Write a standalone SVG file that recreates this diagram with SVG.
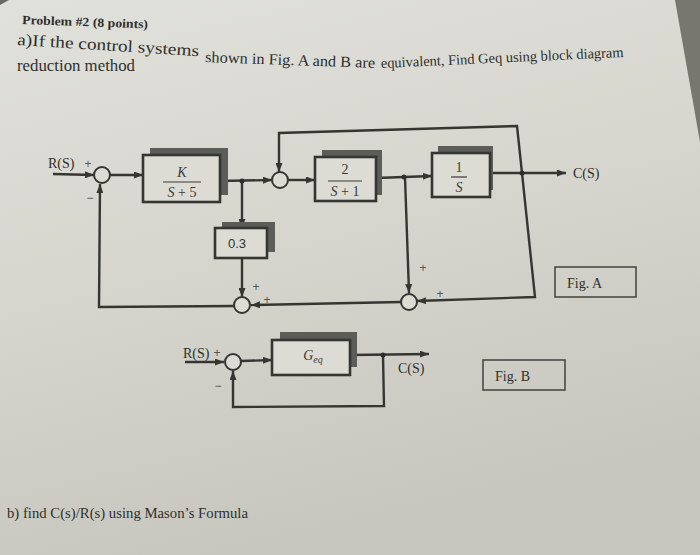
<svg xmlns="http://www.w3.org/2000/svg" width="700" height="555" viewBox="0 0 700 555">
<defs>
<linearGradient id="paper" x1="0" y1="0" x2="0.3" y2="1">
<stop offset="0" stop-color="#e1e1db"/>
<stop offset="0.5" stop-color="#d6d6cf"/>
<stop offset="1" stop-color="#c7c7bf"/>
</linearGradient>
<marker id="ah" viewBox="0 0 9 7" refX="9" refY="3.5" markerWidth="9" markerHeight="7" markerUnits="userSpaceOnUse" orient="auto">
<path d="M0,0 L9,3.5 L0,7 z" fill="#353532"/>
</marker>
<style>
.arr{fill:none;stroke:#353532;stroke-width:2.4;marker-end:url(#ah)}
.blk{fill:#dcdcd5;stroke:#353532;stroke-width:2.6}
.shd{fill:#5c5c58}
.sum{fill:#dcdcd5;stroke:#353532;stroke-width:2}
.dot{fill:#2e2e2b}
.ser{font-family:"Liberation Serif","DejaVu Serif",serif;fill:#2f2f2c}
.sig{font-family:"Liberation Serif","DejaVu Serif",serif;fill:#2f2f2c;font-size:14px}
.frac{font-family:"Liberation Serif","DejaVu Serif",serif;fill:#3a3a37;font-size:14px;text-anchor:middle}
.pm{font-family:"Liberation Sans","DejaVu Sans",sans-serif;fill:#555552;font-size:12px;text-anchor:middle}
.fig{fill:none;stroke:#4a4a46;stroke-width:1.6}
</style>
</defs>

<rect x="0" y="0" width="700" height="555" fill="url(#paper)"/>
<polygon points="675,0 700,0 700,142" fill="#78776f"/>
<polygon points="0,0 9,0 0,5" fill="#6a6963"/>

<!-- Header text -->
<g id="header">
<text class="ser" x="22" y="24" font-size="12.5" font-weight="bold" textLength="126" lengthAdjust="spacingAndGlyphs" transform="rotate(2 22 24)">Problem #2 (8 points)</text>
<text class="ser" x="17" y="45" font-size="16.5" textLength="182" lengthAdjust="spacingAndGlyphs" transform="rotate(3.5 17 45)">a)If the control systems</text>
<text class="ser" x="205" y="62" font-size="15.5" textLength="170" lengthAdjust="spacingAndGlyphs" transform="rotate(2 205 62)">shown in Fig. A and B are</text>
<text class="ser" x="381" y="68" font-size="14.5" textLength="243" lengthAdjust="spacingAndGlyphs" transform="rotate(-2.6 381 68)">equivalent, Find Geq using block diagram</text>
<text class="ser" x="17" y="71" font-size="16.5" textLength="118" lengthAdjust="spacingAndGlyphs">reduction method</text>
</g>

<!-- Connectors -->
<g id="connectors">
<!-- Fig A -->
<line class="arr" x1="53" y1="174" x2="94" y2="175"/>
<line class="arr" x1="110" y1="175" x2="143" y2="175"/>
<line class="arr" x1="220" y1="181" x2="272" y2="180"/>
<line class="arr" x1="242" y1="181" x2="242" y2="228"/>
<line class="arr" x1="242" y1="258" x2="242" y2="297"/>
<line class="arr" x1="288" y1="180" x2="315" y2="180"/>
<line class="arr" x1="376" y1="178" x2="432" y2="176"/>
<line class="arr" x1="490" y1="173" x2="566" y2="173"/>
<polyline class="arr" points="522,173 517,126 279,133 279,172"/>
<polyline class="arr" points="522,173 535,297 417,301"/>
<line class="arr" x1="405" y1="177" x2="409" y2="293"/>
<line class="arr" x1="401" y1="302" x2="251" y2="305"/>
<polyline class="arr" points="234,306 99,307 100,184"/>
<!-- Fig B -->
<line class="arr" x1="185" y1="362" x2="224" y2="362"/>
<line class="arr" x1="241" y1="361" x2="272" y2="360"/>
<line class="arr" x1="350" y1="355" x2="429" y2="354"/>
<polyline class="arr" points="383,355 384,406 233,407 233,371"/>
</g>

<!-- Fig A nodes -->
<g id="sumA1"><circle class="sum" cx="102" cy="175" r="8"/></g>
<g id="blockK">
<rect class="shd" x="150" y="148" width="78" height="47"/>
<rect class="blk" x="143" y="155" width="77" height="47"/>
<text class="frac" x="182" y="177" font-style="italic">K</text>
<line x1="163" y1="182" x2="201" y2="182" stroke="#3a3a37" stroke-width="1.2"/>
<text class="frac" x="182" y="197" font-style="italic">S<tspan font-style="normal"> + 5</tspan></text>
</g>
<g id="junction1"><circle class="dot" cx="242" cy="181" r="2.5"/></g>
<g id="block03">
<rect class="shd" x="222" y="222" width="53" height="30"/>
<rect class="blk" x="215" y="228" width="52" height="30"/>
<text x="237" y="248" font-family="Liberation Sans, DejaVu Sans, sans-serif" font-size="13" fill="#333330" text-anchor="middle">0.3</text>
</g>
<g id="sumA2"><circle class="sum" cx="280" cy="180" r="8"/></g>
<g id="block2">
<rect class="shd" x="322" y="150" width="60" height="45"/>
<rect class="blk" x="315" y="157" width="61" height="44"/>
<text class="frac" x="345" y="174">2</text>
<line x1="328" y1="181" x2="362" y2="181" stroke="#3a3a37" stroke-width="1.2"/>
<text class="frac" x="345" y="196"><tspan font-style="italic">S</tspan> + 1</text>
</g>
<g id="junction2"><circle class="dot" cx="404" cy="177" r="2.5"/></g>
<g id="block1s">
<rect class="shd" x="438" y="146" width="55" height="44"/>
<rect class="blk" x="432" y="153" width="58" height="44"/>
<text class="frac" x="459" y="172">1</text>
<line x1="451" y1="177" x2="467" y2="177" stroke="#3a3a37" stroke-width="1.2"/>
<text class="frac" x="459" y="192" font-style="italic">S</text>
</g>
<g id="junction3"><circle class="dot" cx="522" cy="173" r="2.5"/></g>
<g id="sumA3"><circle class="sum" cx="409" cy="302" r="8"/></g>
<g id="sumA4"><circle class="sum" cx="242" cy="305" r="8"/></g>

<g id="labelsA">
<text class="sig" x="48" y="168" font-size="13">R(S)</text>
<text class="pm" x="88" y="168">+</text>
<text class="pm" x="90" y="202">−</text>
<text class="pm" x="256" y="291">+</text>
<text class="pm" x="267" y="304">+</text>
<text class="pm" x="423" y="272">+</text>
<text class="pm" x="440" y="298">+</text>
<text class="sig" x="573" y="178">C(S)</text>
</g>
<g id="figA">
<rect class="fig" x="555" y="267" width="81" height="30"/>
<text class="sig" x="567" y="288">Fig. A</text>
</g>

<!-- Fig B nodes -->
<g id="sumB"><circle class="sum" cx="233" cy="362" r="8"/></g>
<g id="blockGeq">
<rect class="shd" x="280" y="332" width="77" height="35"/>
<rect class="blk" x="272" y="340" width="78" height="35"/>
<text class="frac" x="313" y="360" font-style="italic" font-size="13">G<tspan font-size="10" dy="3">eq</tspan></text>
</g>
<g id="junctionB"><circle class="dot" cx="383" cy="355" r="2.5"/></g>
<g id="labelsB">
<text class="sig" x="183" y="358" font-size="13">R(S)</text>
<text class="pm" x="217" y="357">+</text>
<text class="pm" x="218" y="390">−</text>
<text class="sig" x="398" y="373" font-size="15">C(S)</text>
</g>
<g id="figB">
<rect class="fig" x="483" y="360" width="82" height="30"/>
<text class="sig" x="495" y="381">Fig. B</text>
</g>

<g id="footer">
<text class="ser" x="7" y="518" font-size="15" textLength="241" lengthAdjust="spacingAndGlyphs">b) find C(s)/R(s) using Mason’s Formula</text>
</g>
</svg>
